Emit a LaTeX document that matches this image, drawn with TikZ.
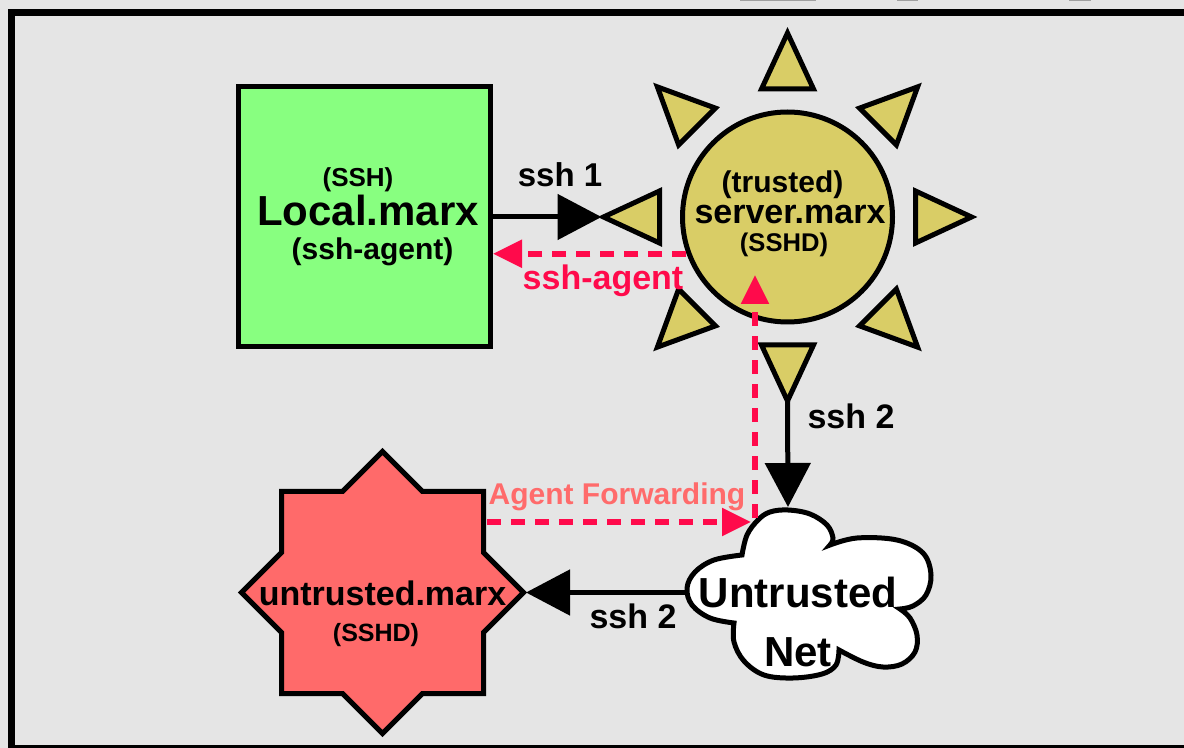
\documentclass[tikz,border=0pt]{standalone}
\usepackage{fontspec}
\setmainfont{Liberation Sans}
\usetikzlibrary{arrows.meta,calc}

\definecolor{bg}{HTML}{E5E5E5}
\definecolor{hostgreen}{HTML}{88FF80}
\definecolor{sunyellow}{HTML}{D9CD66}
\definecolor{starred}{HTML}{FF6A6A}
\definecolor{agentred}{HTML}{FF0A4B}
\definecolor{fwdpink}{HTML}{FF6B6B}
\definecolor{tickgray}{HTML}{A0A0A0}

% font size helper (size in pt)
\newcommand\fsz[1]{\fontsize{#1pt}{#1pt}\selectfont\bfseries}

\begin{document}
\begin{tikzpicture}[x=0.5pt,y=-0.5pt,
  outl/.style={draw=black,line width=2.5pt,line join=miter},
  lbl/.style={inner sep=0pt,anchor=base},
  blkarrow/.style={draw=black,line width=2.5pt,-{Triangle[length=22pt,width=22.5pt]}},
  agentarrow/.style={draw=agentred,line width=2.75pt,dash pattern=on 7pt off 5pt,
                     -{Triangle[length=14.5pt,width=13.5pt]}},
  hostbox/.style={outl,fill=hostgreen,minimum width=126.25pt,minimum height=130pt,inner sep=0pt},
  sunbody/.style={outl,fill=sunyellow,circle,minimum size=105pt,inner sep=0pt},
]
% page and frame
\useasboundingbox (0,0) rectangle (1184,748);
\fill[bg] (0,0) rectangle (1184,748);
\fill[black] (8,9) rectangle (1184,748);
\fill[bg] (15,16) rectangle (1184,745);
\fill[tickgray] (740,0) rectangle (816,1.5);
\fill[tickgray] (897,0) rectangle (918,1.5);
\fill[tickgray] (1069,0) rectangle (1091,1.5);

% local host
\node[hostbox] (local) at (364.25,217) {};
\node[lbl] (localssh) at (358,187) {\fsz{13}(SSH)};
\node[lbl] (localname) at (368,226) {\fsz{21}Local.marx};
\node[lbl] (localagent) at (372.5,260) {\fsz{15}(ssh-agent)};

% trusted server: circle with eight rays
\node[sunbody] (sun) at (787.5,217) {};
\foreach \a in {0,45,...,315}
  \draw[outl,fill=sunyellow]
    ($(sun.center)+(\a:184)$) --
    ($(sun.center)+(\a:128)+(\a+90:26)$) --
    ($(sun.center)+(\a:128)+(\a-90:26)$) -- cycle;
\coordinate (sunW) at ($(sun.center)+(180:186)$);
\coordinate (sunS) at ($(sun.center)+(90:184)$);
\coordinate (sunIn) at (755,275);
\node[lbl] (suntrusted) at (782.5,193) {\fsz{15}(trusted)};
\node[lbl] (sunname) at (790,224) {\fsz{17}server.marx};
\node[lbl] (sunsshd) at (784,252) {\fsz{12.8}(SSHD)};

% untrusted host: eight-pointed star
\begin{scope}[shift={(382.5,592.5)}]
  \draw[outl,fill=starred]
    (141,0) -- (101,40) -- (101,101) -- (40,101) -- (0,141) -- (-40,101) --
    (-101,101) -- (-101,40) -- (-141,0) -- (-101,-40) -- (-101,-101) --
    (-40,-101) -- (0,-141) -- (40,-101) -- (101,-101) -- (101,-40) -- cycle;
\end{scope}
\coordinate (starE) at (526,592.5);
\coordinate (starNE) at (487,522);
\node[lbl] (starname) at (382.5,605) {\fsz{17}untrusted.marx};
\node[lbl] (starsshd) at (376,641) {\fsz{12.5}(SSHD)};

% untrusted network cloud
\draw[outl,fill=white]
  plot[smooth,tension=0.6] coordinates {(742,555) (747,535) (758,520) (770,512) (788,510) (810,514) (827,525) (833,538) (830,545)}
  -- plot[smooth,tension=0.6] coordinates {(830,545) (857,538) (897,540) (923,553) (931,575) (926,595) (913,606) (900,609)}
  -- plot[smooth,tension=0.6] coordinates {(900,609) (910,618) (917,635) (915,652) (902,664) (883,667) (863,662) (839,650)}
  -- plot[smooth,tension=0.6] coordinates {(839,650) (836,665) (822,674) (793,678) (764,675) (744,661) (734,642) (734,623)}
  -- plot[smooth,tension=0.6] coordinates {(734,623) (710,618) (692,605) (687,588) (695,572) (714,560) (742,555)}
  -- cycle;
\coordinate (cloudN) at (788,507);
\coordinate (cloudW) at (685,592.5);
\coordinate (cloudNW) at (751,522);
\coordinate (cloudNWup) at (755,518);
\node[lbl] (cloudtop) at (798,608) {\fsz{21}Untrusted};
\node[lbl] (cloudbot) at (798,667) {\fsz{21}Net};

% connections
\draw[blkarrow] (local.east) -- (sunW);
\node[lbl] (ssh1) at (560,187) {\fsz{16.5}ssh 1};

\draw[agentarrow] (sun.200) -- (local.east |- sun.200);
\node[lbl,text=agentred] (agentlbl) at (603,290) {\fsz{17}ssh-agent};

\draw[blkarrow] (sunS) -- (cloudN);
\node[lbl] (ssh2a) at (851,429) {\fsz{17}ssh 2};

\draw[blkarrow] (cloudW) -- (starE);
\node[lbl] (ssh2b) at (633,628) {\fsz{17}ssh 2};

\draw[agentarrow] (starNE) -- (cloudNW);
\draw[agentarrow] (cloudNWup) -- (sunIn);
\node[lbl,text=fwdpink] (fwdlbl) at (617,505) {\fsz{15}Agent Forwarding};
\end{tikzpicture}
\end{document}
